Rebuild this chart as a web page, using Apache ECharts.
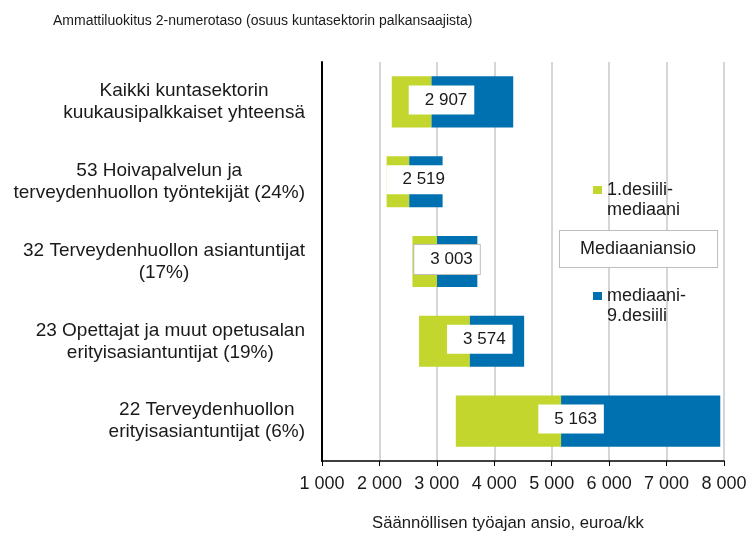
<!DOCTYPE html>
<html>
<head>
<meta charset="utf-8">
<script src="https://cdn.jsdelivr.net/npm/echarts@6/dist/echarts.min.js"></script>
<style>
  html, body { margin: 0; padding: 0; background: #fff; }
  #chart-root { width: 750px; height: 533px; }
</style>
</head>
<body>
<div id="chart-root"></div>
<script>
// luokat ylhäältä alas
const categories = [
  'Kaikki kuntasektorin\nkuukausipalkkaiset yhteensä',
  '53 Hoivapalvelun ja\nterveydenhuollon työntekijät (24%)',
  '32 Terveydenhuollon asiantuntijat\n(17%)',
  '23 Opettajat ja muut opetusalan\nerityisasiantuntijat (19%)',
  '22 Terveydenhuollon\nerityisasiantuntijat (6%)'
]
const decile1 = [2215, 2125, 2575, 2690, 3330]
const medians = [2907, 2519, 3003, 3574, 5163]
const decile9 = [4330, 3100, 3705, 4520, 7935]

const xMin = 1000
const xMax = 8000
const xStep = 1000

const titleText = 'Ammattiluokitus 2-numerotaso (osuus kuntasektorin palkansaajista)'
const xName = 'Säännöllisen työajan ansio, euroa/kk'
const lowName = '1.desiili-\nmediaani'
const highName = 'mediaani-\n9.desiili'
const medName = 'Mediaaniansio'

const font = "'Liberation Sans', Arial, sans-serif"
const fmt = v => String(v).replace(/\B(?=(\d{3})+(?!\d))/g, ' ')

let chart = echarts.init(document.getElementById('chart-root'))

// legendan teksti: tyhjä ensimmäinen rivi, jotta ikoni osuu ensimmäiselle tekstiriville
const twoLineLegend = (name, top) => ({
  data: [name],
  left: 593, top: top, padding: 0,
  icon: 'rect', itemWidth: 9, itemHeight: 8,
  selectedMode: false,
  formatter: n => ' \n' + n,
  textStyle: { fontSize: 18, lineHeight: 20, color: '#1a1a1a', fontFamily: font }
})

let option = {
  animation: false,
  textStyle: { fontFamily: font, color: '#1a1a1a' },
  title: [
    {
      text: titleText,
      left: 53, top: 14, padding: 0,
      textStyle: { fontSize: 14, fontWeight: 'normal', color: '#1a1a1a', fontFamily: font }
    },
    {
      text: xName,
      left: 372, top: 515, padding: 0,
      textStyle: { fontSize: 16.7, fontWeight: 'normal', color: '#1a1a1a', fontFamily: font }
    }
  ],
  grid: { left: 322, right: 26, top: 62, bottom: 72, containLabel: false },
  legend: [
    twoLineLegend(lowName, 160),
    {
      data: [{ name: medName, icon: 'none' }],
      left: 555, top: 230, padding: 0,
      itemWidth: 0, itemHeight: 0,
      selectedMode: false,
      textStyle: {
        fontSize: 18, color: '#1a1a1a', fontFamily: font,
        backgroundColor: '#fff', borderColor: '#bdbdbd', borderWidth: 1,
        padding: [9, 21, 9, 20]
      }
    },
    twoLineLegend(highName, 266)
  ],
  xAxis: {
    type: 'value',
    min: xMin,
    max: xMax,
    interval: xStep,
    axisLine: { show: true, lineStyle: { color: '#000', width: 1.5 } },
    axisTick: { show: true, length: 5, lineStyle: { color: '#000' } },
    axisLabel: { fontSize: 18, color: '#1a1a1a', margin: 14, formatter: fmt },
    splitLine: { show: true, lineStyle: { color: '#c8c8c8', width: 1.5 } }
  },
  yAxis: {
    type: 'category',
    inverse: true,
    data: categories,
    axisLine: { show: true, lineStyle: { color: '#000', width: 2 } },
    axisTick: { show: false },
    axisLabel: {
      margin: 17,
      align: 'right',
      formatter: v => v.split('\n').map(s => `{c|${s}}`).join('\n'),
      rich: {
        c: { align: 'center', fontSize: 19, lineHeight: 22, color: '#1a1a1a', fontFamily: font }
      }
    }
  },
  series: [
    {
      name: 'base',
      type: 'bar',
      stack: 'd',
      silent: true,
      barWidth: '64%',
      itemStyle: { color: 'transparent' },
      data: decile1
    },
    {
      name: lowName,
      type: 'bar',
      stack: 'd',
      barWidth: '64%',
      itemStyle: { color: '#c2d62e' },
      data: medians.map((m, i) => m - decile1[i])
    },
    {
      name: highName,
      type: 'bar',
      stack: 'd',
      barWidth: '64%',
      itemStyle: { color: '#0071b0' },
      data: decile9.map((d, i) => d - medians[i])
    },
    {
      name: medName,
      type: 'scatter',
      symbol: 'rect',
      symbolSize: 0,
      itemStyle: { color: '#fff', opacity: 1 },
      z: 5,
      label: {
        show: true,
        position: 'inside',
        offset: [10, -2],
        fontSize: 17,
        color: '#1a1a1a',
        fontFamily: font,
        backgroundColor: '#fff',
        padding: [6, 7, 6, 16],
        formatter: p => fmt(p.value[0])
      },
      data: medians.map((m, i) => i === 2
        ? { value: [m, i], label: { borderColor: '#bdbdbd', borderWidth: 1 } }
        : [m, i])
    }
  ]
}

chart.setOption(option)
</script>
</body>
</html>
